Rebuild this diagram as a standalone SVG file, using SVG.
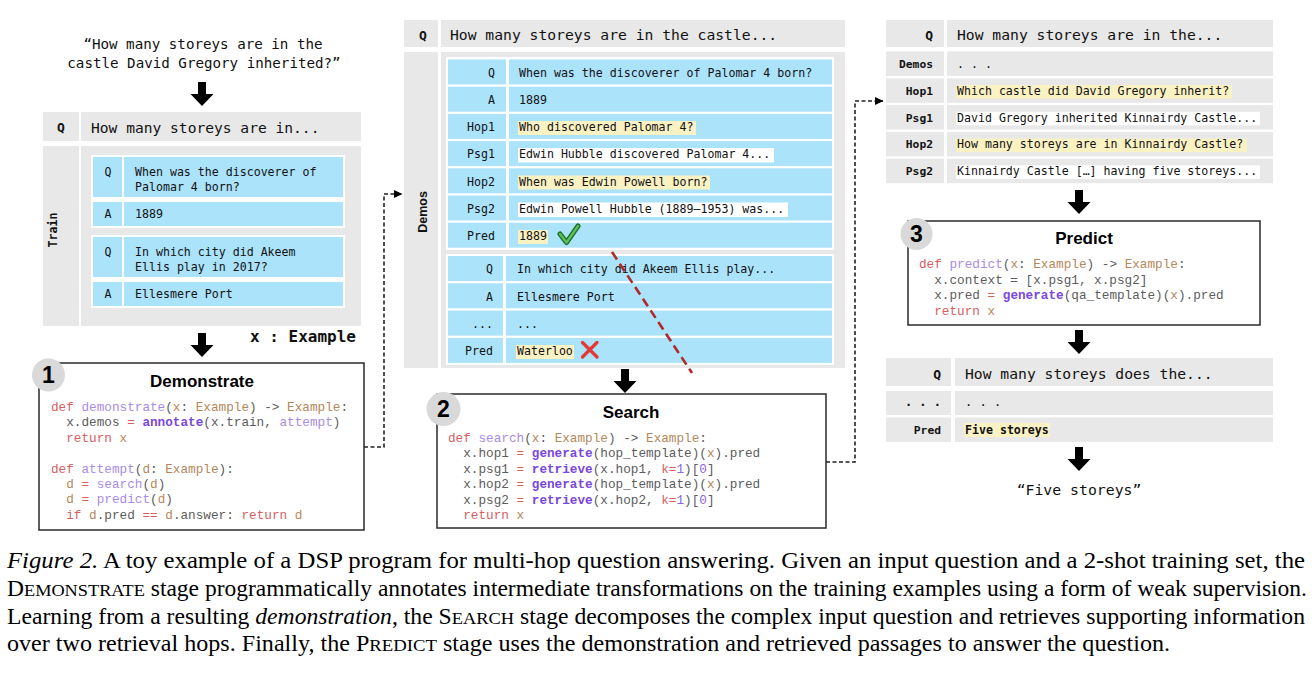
<svg xmlns="http://www.w3.org/2000/svg" width="1312" height="674" viewBox="0 0 1312 674">
<style>
.g{fill:#e8e8e8}
.b{fill:#abe3fb}
.w{fill:#fff}
.y{fill:#fbf2c4}
.t{font-family:"DejaVu Sans Mono",monospace;fill:#111}
.bold{font-weight:bold}
.end{text-anchor:end}
.mid{text-anchor:middle}
.code{font-family:"Liberation Mono","Courier New",monospace;font-size:12.7px;fill:#5c5c5c}
.kw{fill:#d4605f}
.fn{fill:#a88be6}
.ty{fill:#b5875a}
.bi{fill:#7a48dc;font-weight:bold}
.nm{fill:#8b63e0}
.box{fill:#fff;stroke:#2a2a2a;stroke-width:1.5}
.num{fill:#d9d9d9}
.numt{font-family:"Liberation Sans",Arial,sans-serif;font-weight:bold;font-size:23px;fill:#000;text-anchor:middle}
.title{font-family:"Liberation Sans",Arial,sans-serif;font-weight:bold;font-size:17px;fill:#000;text-anchor:middle}
.dash{fill:none;stroke:#222;stroke-width:1.6;stroke-dasharray:4 2.5}
.cap{font-family:"Liberation Serif","Times New Roman",serif;font-size:22.5px;fill:#000}
</style>
<defs>
<path id="arrow" d="M-4,0 H4 V12 H11.5 L0,24 L-11.5,12 H-4 Z" fill="#000"/>
<marker id="ah" markerWidth="9" markerHeight="9" refX="8" refY="4.5" orient="auto" markerUnits="userSpaceOnUse"><path d="M0,0.5 L8.5,4.5 L0,8.5 Z" fill="#000"/></marker>
</defs>
<rect x="0" y="0" width="1312" height="674" fill="#fff"/>

<!-- LEFT: input question -->
<g id="input-question">
<text class="t mid" x="203" y="48.5" font-size="14.2">“How many storeys are in the</text>
<text class="t mid" x="204" y="68" font-size="14.2">castle David Gregory inherited?”</text>
</g>

<g id="train-query">
<rect class="g" x="43" y="112" width="36" height="29"/>
<rect class="g" x="81" y="112" width="280" height="29"/>
<text class="t bold mid" x="61" y="132" font-size="13">Q</text>
<text class="t" x="91" y="132.5" font-size="14.6">How many storeys are in...</text>
</g>

<g id="train-set">
<rect class="g" x="43" y="146" width="36" height="180"/>
<rect class="g" x="81" y="146" width="280" height="180"/>
<text class="t bold mid" transform="translate(57,230) rotate(-90)" font-size="11.6">Train</text>
</g>

<g id="train-example-1">
<rect class="w" x="91" y="155" width="254" height="73"/>
<rect class="b" x="93" y="157" width="29" height="40"/>
<rect class="b" x="124" y="157" width="219" height="40"/>
<rect class="b" x="93" y="202" width="29" height="24"/>
<rect class="b" x="124" y="202" width="219" height="24"/>
<text class="t mid" x="108" y="176" font-size="11.6">Q</text>
<text class="t" x="135" y="175.5" font-size="11.6">When was the discoverer of</text>
<text class="t" x="135" y="190.5" font-size="11.6">Palomar 4 born?</text>
<text class="t mid" x="108" y="218" font-size="11.6">A</text>
<text class="t" x="135" y="218" font-size="11.6">1889</text>
</g>

<g id="train-example-2">
<rect class="w" x="91" y="235" width="254" height="73"/>
<rect class="b" x="93" y="237" width="29" height="40"/>
<rect class="b" x="124" y="237" width="219" height="40"/>
<rect class="b" x="93" y="282" width="29" height="24"/>
<rect class="b" x="124" y="282" width="219" height="24"/>
<text class="t mid" x="108" y="255.5" font-size="11.6">Q</text>
<text class="t" x="135" y="255.5" font-size="11.6">In which city did Akeem</text>
<text class="t" x="135" y="270.5" font-size="11.6">Ellis play in 2017?</text>
<text class="t mid" x="108" y="298" font-size="11.6">A</text>
<text class="t" x="135" y="298" font-size="11.6">Ellesmere Port</text>
</g>

<g id="type-label">
<text class="t bold" x="250" y="342" font-size="16">x : Example</text>
</g>

<!-- Demonstrate box -->
<g id="demonstrate">
<rect class="box" x="39" y="363" width="325" height="167"/>
<circle class="num" cx="48.5" cy="375" r="16.5"/>
<text class="numt" x="48.5" y="383">1</text>
<text class="title" x="202" y="387">Demonstrate</text>
<text class="code" x="51" y="411" xml:space="preserve"><tspan class="kw">def</tspan> <tspan class="fn">demonstrate</tspan>(<tspan class="ty">x</tspan>: <tspan class="ty">Example</tspan>) -&gt; <tspan class="ty">Example</tspan>:</text>
<text class="code" x="51" y="426.4" xml:space="preserve">  x.demos <tspan class="kw">=</tspan> <tspan class="bi">annotate</tspan>(x.train, <tspan class="fn">attempt</tspan>)</text>
<text class="code" x="51" y="441.8" xml:space="preserve">  <tspan class="kw">return</tspan> <tspan class="ty">x</tspan></text>
<text class="code" x="51" y="472.6" xml:space="preserve"><tspan class="kw">def</tspan> <tspan class="fn">attempt</tspan>(<tspan class="ty">d</tspan>: <tspan class="ty">Example</tspan>):</text>
<text class="code" x="51" y="488" xml:space="preserve">  <tspan class="ty">d</tspan> <tspan class="kw">=</tspan> <tspan class="fn">search</tspan>(<tspan class="ty">d</tspan>)</text>
<text class="code" x="51" y="503.4" xml:space="preserve">  <tspan class="ty">d</tspan> <tspan class="kw">=</tspan> <tspan class="fn">predict</tspan>(<tspan class="ty">d</tspan>)</text>
<text class="code" x="51" y="518.8" xml:space="preserve">  <tspan class="kw">if</tspan> <tspan class="ty">d</tspan>.pred <tspan class="kw">==</tspan> <tspan class="ty">d</tspan>.answer: <tspan class="kw">return</tspan> <tspan class="ty">d</tspan></text>
</g>

<!-- MIDDLE -->
<g id="demo-query">
<rect class="g" x="404" y="20" width="34" height="27"/>
<rect class="g" x="441" y="20" width="404" height="27"/>
<text class="t bold mid" x="423" y="40" font-size="13">Q</text>
<text class="t" x="450" y="40" font-size="14.7">How many storeys are in the castle...</text>
</g>

<g id="demos-panel">
<rect class="g" x="404" y="52" width="34" height="316"/>
<rect class="g" x="441" y="52" width="404" height="316"/>
<text font-family="'Liberation Sans',Arial,sans-serif" font-weight="bold" font-size="12.5" fill="#111" text-anchor="middle" transform="translate(426.5,212) rotate(-90)">Demos</text>
</g>

<g id="demo-1">
<rect class="w" x="446" y="57" width="388" height="193"/>
<rect class="b" x="448" y="59.5" width="58" height="25"/><rect class="b" x="509" y="59.5" width="323" height="25"/>
<rect class="b" x="448" y="86.7" width="58" height="25"/><rect class="b" x="509" y="86.7" width="323" height="25"/>
<rect class="b" x="448" y="113.9" width="58" height="25"/><rect class="b" x="509" y="113.9" width="323" height="25"/>
<rect class="b" x="448" y="141.1" width="58" height="25"/><rect class="b" x="509" y="141.1" width="323" height="25"/>
<rect class="b" x="448" y="168.3" width="58" height="25"/><rect class="b" x="509" y="168.3" width="323" height="25"/>
<rect class="b" x="448" y="195.5" width="58" height="25"/><rect class="b" x="509" y="195.5" width="323" height="25"/>
<rect class="b" x="448" y="222.7" width="58" height="25"/><rect class="b" x="509" y="222.7" width="323" height="25"/>
<rect class="y" x="518" y="121" width="178" height="14"/>
<rect class="w" x="518" y="148" width="256" height="14.5"/>
<rect class="y" x="518" y="175.5" width="192" height="14"/>
<rect class="w" x="518" y="202.5" width="270" height="14.5"/>
<rect class="y" x="518" y="230" width="30" height="14"/>
<text class="t end" x="495" y="76.8" font-size="11.6">Q</text>
<text class="t" x="519" y="76.8" font-size="11.6">When was the discoverer of Palomar 4 born?</text>
<text class="t end" x="495" y="104" font-size="11.6">A</text>
<text class="t" x="519" y="104" font-size="11.6">1889</text>
<text class="t end" x="495" y="131.2" font-size="11.6">Hop1</text>
<text class="t" x="519" y="131.2" font-size="11.6">Who discovered Palomar 4?</text>
<text class="t end" x="495" y="158.4" font-size="11.6">Psg1</text>
<text class="t" x="519" y="158.4" font-size="11.6">Edwin Hubble discovered Palomar 4...</text>
<text class="t end" x="495" y="185.6" font-size="11.6">Hop2</text>
<text class="t" x="519" y="185.6" font-size="11.6">When was Edwin Powell born?</text>
<text class="t end" x="495" y="212.8" font-size="11.6">Psg2</text>
<text class="t" x="519" y="212.8" font-size="11.6">Edwin Powell Hubble (1889–1953) was...</text>
<text class="t end" x="495" y="240" font-size="11.6">Pred</text>
<text class="t" x="519" y="240" font-size="11.6">1889</text>
<path d="M560,234 L566.5,242.5 L578,226" fill="none" stroke="#1f6b25" stroke-width="5" stroke-linecap="round" stroke-linejoin="round"/>
<path d="M560,234 L566.5,242.5 L578,226" fill="none" stroke="#5cc05c" stroke-width="2.4" stroke-linecap="round" stroke-linejoin="round"/>
</g>

<g id="demo-2">
<rect class="w" x="446" y="254" width="388" height="111"/>
<rect class="b" x="448" y="256" width="55" height="25"/><rect class="b" x="506" y="256" width="326" height="25"/>
<rect class="b" x="448" y="283.3" width="55" height="25"/><rect class="b" x="506" y="283.3" width="326" height="25"/>
<rect class="b" x="448" y="310.6" width="55" height="25"/><rect class="b" x="506" y="310.6" width="326" height="25"/>
<rect class="b" x="448" y="337.9" width="55" height="25"/><rect class="b" x="506" y="337.9" width="326" height="25"/>
<rect class="y" x="516" y="345" width="58" height="14"/>
<text class="t end" x="493" y="273.3" font-size="11.6">Q</text>
<text class="t" x="517" y="273.3" font-size="11.6">In which city did Akeem Ellis play...</text>
<text class="t end" x="493" y="300.6" font-size="11.6">A</text>
<text class="t" x="517" y="300.6" font-size="11.6">Ellesmere Port</text>
<text class="t end" x="493" y="327.9" font-size="11.6">...</text>
<text class="t" x="517" y="327.9" font-size="11.6">...</text>
<text class="t end" x="493" y="355.2" font-size="11.6">Pred</text>
<text class="t" x="517" y="355.2" font-size="11.6">Waterloo</text>
<path d="M582.5,342.5 L597,357 M597,342.5 L582.5,357" stroke="#e53935" stroke-width="3.3" stroke-linecap="round"/>
</g>

<g id="search">
<rect class="box" x="437" y="394" width="389" height="134"/>
<circle class="num" cx="443.5" cy="409" r="17"/>
<text class="numt" x="443.5" y="417">2</text>
<text class="title" x="631" y="418">Search</text>
<text class="code" x="448" y="442" xml:space="preserve"><tspan class="kw">def</tspan> <tspan class="fn">search</tspan>(<tspan class="ty">x</tspan>: <tspan class="ty">Example</tspan>) -&gt; <tspan class="ty">Example</tspan>:</text>
<text class="code" x="448" y="457.4" xml:space="preserve">  x.hop1 <tspan class="kw">=</tspan> <tspan class="bi">generate</tspan>(hop_template)(<tspan class="ty">x</tspan>).pred</text>
<text class="code" x="448" y="472.8" xml:space="preserve">  x.psg1 <tspan class="kw">=</tspan> <tspan class="bi">retrieve</tspan>(x.hop1, <tspan class="kw">k=</tspan><tspan class="nm">1</tspan>)[<tspan class="nm">0</tspan>]</text>
<text class="code" x="448" y="488.2" xml:space="preserve">  x.hop2 <tspan class="kw">=</tspan> <tspan class="bi">generate</tspan>(hop_template)(<tspan class="ty">x</tspan>).pred</text>
<text class="code" x="448" y="503.6" xml:space="preserve">  x.psg2 <tspan class="kw">=</tspan> <tspan class="bi">retrieve</tspan>(x.hop2, <tspan class="kw">k=</tspan><tspan class="nm">1</tspan>)[<tspan class="nm">0</tspan>]</text>
<text class="code" x="448" y="519" xml:space="preserve">  <tspan class="kw">return</tspan> <tspan class="ty">x</tspan></text>
</g>

<!-- RIGHT -->
<g id="search-result">
<rect class="g" x="886" y="20" width="58" height="27"/><rect class="g" x="947" y="20" width="326" height="27"/>
<rect class="g" x="886" y="51.5" width="58" height="24.5"/><rect class="g" x="947" y="51.5" width="326" height="24.5"/>
<rect class="g" x="886" y="78.3" width="58" height="24.5"/><rect class="g" x="947" y="78.3" width="326" height="24.5"/>
<rect class="g" x="886" y="105.1" width="58" height="24.5"/><rect class="g" x="947" y="105.1" width="326" height="24.5"/>
<rect class="g" x="886" y="131.9" width="58" height="24.5"/><rect class="g" x="947" y="131.9" width="326" height="24.5"/>
<rect class="g" x="886" y="158.7" width="58" height="24.5"/><rect class="g" x="947" y="158.7" width="326" height="24.5"/>
<rect class="y" x="956" y="85" width="276" height="13.5"/>
<rect class="w" x="956" y="111.8" width="304" height="13.5"/>
<rect class="y" x="956" y="138.6" width="291" height="13.5"/>
<rect class="w" x="956" y="165.4" width="304" height="13.5"/>
<text class="t bold end" x="933" y="40" font-size="13">Q</text>
<text class="t" x="957" y="40" font-size="14.7">How many storeys are in the...</text>
<text class="t bold end" x="933" y="68" font-size="11.3">Demos</text>
<text class="t" x="957" y="68" font-size="11.6">. . .</text>
<text class="t bold end" x="933" y="94.8" font-size="11.3">Hop1</text>
<text class="t" x="957" y="94.8" font-size="11.6">Which castle did David Gregory inherit?</text>
<text class="t bold end" x="933" y="121.6" font-size="11.3">Psg1</text>
<text class="t" x="957" y="121.6" font-size="11.6">David Gregory inherited Kinnairdy Castle...</text>
<text class="t bold end" x="933" y="148.4" font-size="11.3">Hop2</text>
<text class="t" x="957" y="148.4" font-size="11.6">How many storeys are in Kinnairdy Castle?</text>
<text class="t bold end" x="933" y="175.2" font-size="11.3">Psg2</text>
<text class="t" x="957" y="175.2" font-size="11.6">Kinnairdy Castle […] having five storeys...</text>
</g>

<g id="predict">
<rect class="box" x="908" y="221" width="352" height="104"/>
<circle class="num" cx="916.5" cy="234" r="16"/>
<text class="numt" x="916.5" y="242">3</text>
<text class="title" x="1084" y="244">Predict</text>
<text class="code" x="919" y="268" xml:space="preserve"><tspan class="kw">def</tspan> <tspan class="fn">predict</tspan>(<tspan class="ty">x</tspan>: <tspan class="ty">Example</tspan>) -&gt; <tspan class="ty">Example</tspan>:</text>
<text class="code" x="919" y="283.5" xml:space="preserve">  x.context = [x.psg1, x.psg2]</text>
<text class="code" x="919" y="299" xml:space="preserve">  x.pred <tspan class="kw">=</tspan> <tspan class="bi">generate</tspan>(qa_template)(<tspan class="ty">x</tspan>).pred</text>
<text class="code" x="919" y="314.5" xml:space="preserve">  <tspan class="kw">return</tspan> <tspan class="ty">x</tspan></text>
</g>

<g id="prediction">
<rect class="g" x="886" y="358" width="65" height="28"/><rect class="g" x="955" y="358" width="318" height="28"/>
<rect class="g" x="886" y="391" width="65" height="24"/><rect class="g" x="955" y="391" width="318" height="24"/>
<rect class="g" x="886" y="417.5" width="65" height="24.5"/><rect class="g" x="955" y="417.5" width="318" height="24.5"/>
<rect class="y" x="964" y="423" width="86" height="14"/>
<text class="t bold end" x="941" y="379" font-size="13">Q</text>
<text class="t" x="965" y="379" font-size="14.7">How many storeys does the...</text>
<text class="t bold end" x="941" y="406" font-size="12">. . .</text>
<text class="t" x="965" y="406" font-size="12">. . .</text>
<text class="t bold end" x="941" y="434" font-size="11.3">Pred</text>
<text class="t bold" x="965" y="434" font-size="11.6">Five storeys</text>
</g>

<g id="answer">
<text class="t mid" x="1079" y="495" font-size="14.8">“Five storeys”</text>
</g>

<!-- connectors -->
<g id="connectors">
<use href="#arrow" x="202" y="82"/>
<use href="#arrow" x="202" y="333"/>
<use href="#arrow" x="625" y="369"/>
<use href="#arrow" x="1079" y="190"/>
<use href="#arrow" x="1079" y="330"/>
<use href="#arrow" x="1079" y="447"/>
<path class="dash" d="M364,447 H384 V194 H402" marker-end="url(#ah)"/>
<path class="dash" d="M826,462 H855 V101 H883" marker-end="url(#ah)"/>
<path d="M612,252 L692,373" stroke="#b02a2a" stroke-width="2.6" stroke-dasharray="9 5" fill="none"/>
</g>

<!-- caption -->
<g id="caption">
<text class="cap" x="7" y="568" textLength="1298" lengthAdjust="spacingAndGlyphs"><tspan font-style="italic">Figure 2.</tspan> A toy example of a DSP program for multi-hop question answering.  Given an input question and a 2-shot training set, the</text>
<text class="cap" x="7" y="596" textLength="1300" lengthAdjust="spacingAndGlyphs">D<tspan font-size="17.5">EMONSTRATE</tspan> stage programmatically annotates intermediate transformations on the training examples using a form of weak supervision.</text>
<text class="cap" x="7" y="623.5" textLength="1298" lengthAdjust="spacingAndGlyphs">Learning from a resulting <tspan font-style="italic">demonstration</tspan>, the S<tspan font-size="17.5">EARCH</tspan> stage decomposes the complex input question and retrieves supporting information</text>
<text class="cap" x="7" y="651" textLength="1163" lengthAdjust="spacingAndGlyphs">over two retrieval hops. Finally, the P<tspan font-size="17.5">REDICT</tspan> stage uses the demonstration and retrieved passages to answer the question.</text>
</g>
</svg>
